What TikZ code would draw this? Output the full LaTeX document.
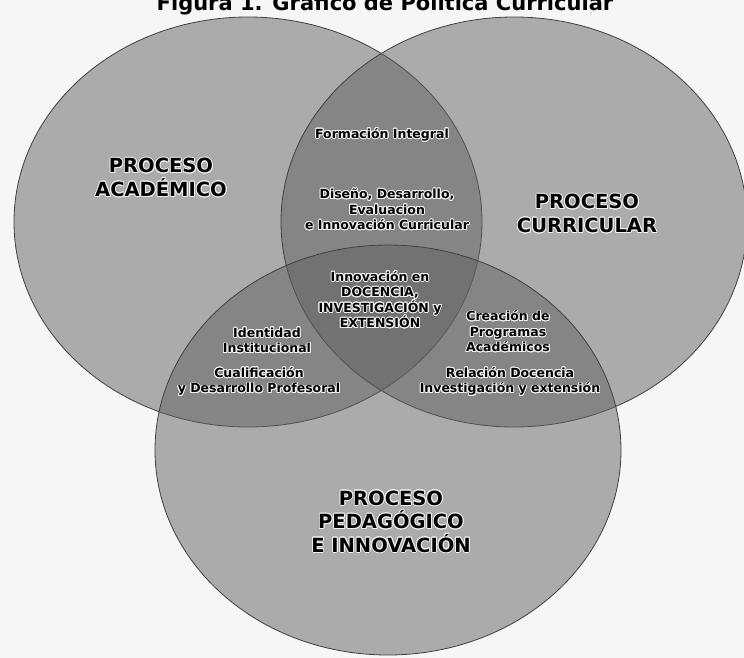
\documentclass[tikz,border=0pt]{standalone}
\usepackage{fontspec}
\usepackage{contour}
\setmainfont{DejaVu Sans}
\contourlength{0.9pt}
\newcommand{\halo}[1]{\contour{gray!12}{#1}}

\begin{document}
\begin{tikzpicture}[x=1pt,y=-1pt,
	ring/.style={fill=black!62,fill opacity=0.5,draw=black!75,line width=0.8pt},
	big/.style={font=\fontsize{19.5}{23.5}\selectfont\bfseries,align=center,inner sep=0pt},
	small/.style={font=\fontsize{12.5}{15.5}\selectfont\bfseries,align=center,inner sep=0pt}]
	\useasboundingbox (0,0) rectangle (744,658);
	\fill[gray!7] (0,0) rectangle (744,658);
	
	\path (385,11) node[anchor=base,font=\fontsize{21}{24}\selectfont\bfseries] (titulo) {Figura 1. Gráfico de Política Curricular};
	
	% los tres procesos
	\draw[ring] (248,222) ellipse [x radius=234, y radius=205];
	\draw[ring] (514,222) ellipse [x radius=233, y radius=205];
	\draw[ring] (388,450) ellipse [x radius=233, y radius=205];
	
	\path (161,178) node[big] (academico) {\halo{PROCESO}\\\halo{ACADÉMICO}};
	\path (587,214) node[big] (curricular) {\halo{PROCESO}\\\halo{CURRICULAR}};
	\path (391,522) node[big] (pedagogico) {\halo{PROCESO}\\\halo{PEDAGÓGICO}\\\halo{E INNOVACIÓN}};
	
	% intersecciones
	\path (382,135) node[small] (formacion) {\halo{Formación Integral}};
	\path (387,210) node[small] (diseno) {\halo{Diseño, Desarrollo,}\\\halo{Evaluacion}\\\halo{e Innovación Curricular}};
	\path (380,300) node[small] (innovacion) {\halo{Innovación en}\\\halo{DOCENCIA,}\\\halo{INVESTIGACIÓN y}\\\halo{EXTENSIÓN}};
	\path (267,341) node[small] (identidad) {\halo{Identidad}\\\halo{Institucional}};
	\path (259,382) node[small] (cualificacion) {\halo{Cualificación}\\\halo{y Desarrollo Profesoral}};
	\path (508,332) node[small] (creacion) {\halo{Creación de}\\\halo{Programas}\\\halo{Académicos}};
	\path (510,382) node[small] (relacion) {\halo{Relación Docencia}\\\halo{Investigación y extensión}};
\end{tikzpicture}
\end{document}
